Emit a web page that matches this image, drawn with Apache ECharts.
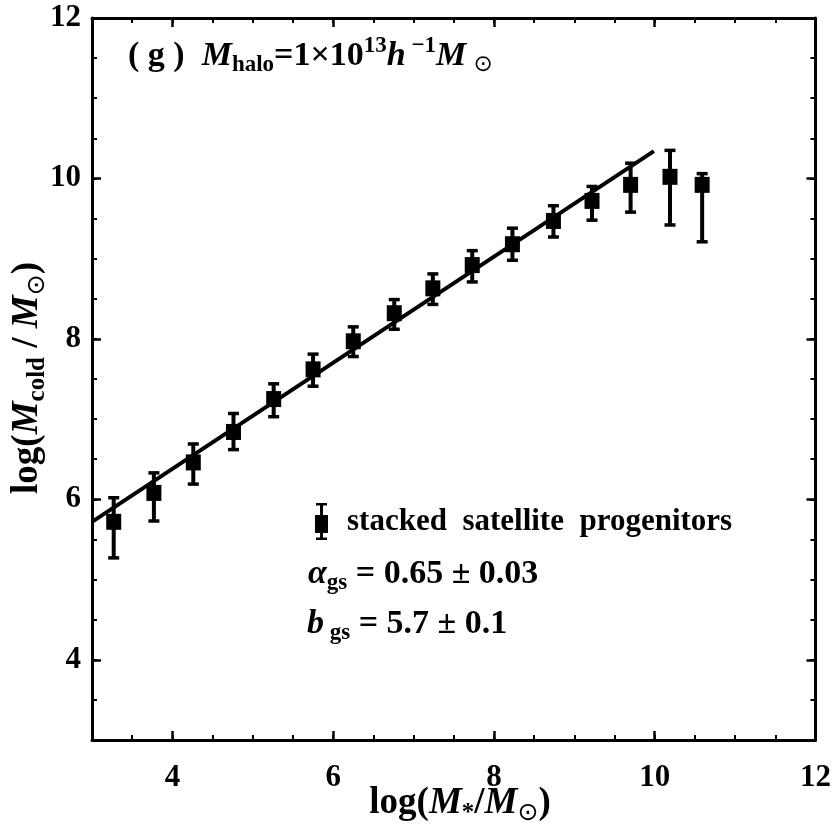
<!DOCTYPE html>
<html><head><meta charset="utf-8">
<script src="https://cdn.jsdelivr.net/npm/echarts@6/dist/echarts.min.js"></script>
<style>html,body{margin:0;padding:0;background:#fff}#c{width:834px;height:834px}</style>
</head><body><div id="c"></div>
<script>
const massX = [3.27,3.77,4.26,4.76,5.26,5.75,6.25,6.76,7.24,7.73,8.23,8.74,9.22,9.70,10.19,10.59];
const coldY = [5.72,6.08,6.46,6.84,7.25,7.62,7.97,8.32,8.63,8.92,9.18,9.47,9.72,9.92,10.02,9.92];
const errLow = [5.27,5.73,6.19,6.62,7.03,7.41,7.78,8.12,8.43,8.71,8.98,9.27,9.48,9.58,9.42,9.21];
const errHigh = [6.02,6.33,6.69,7.07,7.44,7.81,8.15,8.49,8.81,9.10,9.38,9.66,9.90,10.19,10.35,10.06];
const fitX = [3.0, 9.99];
const fitY = [5.72, 10.34];
const xTicks = [4,6,8,10,12];
const yTicks = [4,6,8,10,12];
const seriesName = 'stacked  satellite  progenitors';

const FONT = 'Liberation Serif, Times New Roman, serif';
const chart = echarts.init(document.getElementById('c'), null, {renderer:'canvas'});

function minorAxis(pos) {
  return {
    type:'value', position:pos, min:3, max:12, interval:0.5,
    axisLine:{show:true, onZero:false, lineStyle:{color:'#000', width:3}},
    axisTick:{show:true, inside:true, length:5, lineStyle:{color:'#000', width:2}},
    axisLabel:{show:false}, splitLine:{show:false}
  };
}
function majorAxis(pos, ticks, showLabel, isX) {
  return {
    type:'value', position:pos, min:3, max:12,
    axisLine:{show:false, onZero:false},
    axisTick:{show:true, inside:true, length:9, customValues:ticks, lineStyle:{color:'#000', width:2.5}},
    axisLabel:{show:showLabel, customValues:ticks, margin: isX?22:11, color:'#000',
      fontFamily:FONT, fontWeight:'bold', fontSize:31},
    splitLine:{show:false}
  };
}

function mkRich(main, sub, lh) {
  return {
    n:{fontFamily:FONT, fontWeight:'bold', fontSize:main, color:'#000', lineHeight:lh, verticalAlign:'middle'},
    i:{fontFamily:FONT, fontWeight:'bold', fontStyle:'italic', fontSize:main, color:'#000', lineHeight:lh, verticalAlign:'middle'},
    s:{fontFamily:FONT, fontWeight:'bold', fontSize:sub, color:'#000', lineHeight:sub, verticalAlign:'bottom'},
    sup:{fontFamily:FONT, fontWeight:'bold', fontSize:sub, color:'#000', lineHeight:sub, verticalAlign:'top'},
    sym:{fontFamily:'DejaVu Sans', fontSize:sub, color:'#000', lineHeight:sub, verticalAlign:'bottom'}
  };
}
const richTitle = mkRich(34, 23, 42);
const richEq = mkRich(34, 23, 42);
const richAxis = mkRich(37, 25, 46);

const option = {
  animation:false,
  backgroundColor:'#fff',
  grid:{left:92, right:16, top:18, bottom:94, containLabel:false},
  xAxis:[minorAxis('bottom'), majorAxis('bottom',xTicks,true,true), minorAxis('top'), majorAxis('top',xTicks,false,true)],
  yAxis:[minorAxis('left'), majorAxis('left',yTicks,true,false), minorAxis('right'), majorAxis('right',yTicks,false,false)],
  legend:{
    left:315, top:503, padding:0, orient:'vertical', selectedMode:false,
    itemWidth:13, itemHeight:37,
    data:[{name:seriesName, icon:'path://M0,12L13,12L13,30L0,30Z M5,0L8,0L8,37L5,37Z M1,0L12,0L12,2.5L1,2.5Z M1,34.5L12,34.5L12,37L1,37Z',
           itemStyle:{color:'#000', opacity:1}}],
    textStyle:{fontFamily:FONT, fontWeight:'bold', fontSize:31, color:'#000', padding:[0,0,0,14]}
  },
  series:[
    {type:'line', name:'fit', xAxisIndex:0, yAxisIndex:0, symbol:'none',
     data: fitX.map((x,i)=>[x,fitY[i]]), lineStyle:{color:'#000', width:4}, z:2},
    {type:'custom', name:'err', xAxisIndex:0, yAxisIndex:0,
     data: massX.map((x,i)=>[x,errLow[i],errHigh[i]]),
     renderItem:function(params, api){
       const x = api.value(0);
       const lo = api.coord([x, api.value(1)]);
       const hi = api.coord([x, api.value(2)]);
       const hw = 5.5;
       return {type:'group', children:[
         {type:'line', shape:{x1:lo[0], y1:lo[1], x2:hi[0], y2:hi[1]}, style:{stroke:'#000', lineWidth:4}},
         {type:'line', shape:{x1:lo[0]-hw, y1:lo[1], x2:lo[0]+hw, y2:lo[1]}, style:{stroke:'#000', lineWidth:3.5}},
         {type:'line', shape:{x1:hi[0]-hw, y1:hi[1], x2:hi[0]+hw, y2:hi[1]}, style:{stroke:'#000', lineWidth:3.5}}
       ]};
     }, z:3},
    {type:'scatter', name:seriesName, xAxisIndex:0, yAxisIndex:0, symbol:'rect', symbolSize:[15,16],
     itemStyle:{color:'#000', opacity:1}, data: massX.map((x,i)=>[x,coldY[i]]), z:4}
  ],
  graphic:[
    {type:'text', x:128, y:56, style:{text:'{n|( g )}{n|  }{i|M}{s|halo}{n|=1×10}{sup|13}{i|h}{sup| −1}{i|M}{sym| ⊙}', rich:richTitle, verticalAlign:'middle', align:'left'}},
    {type:'text', x:308, y:574, style:{text:'{i|α}{s|gs}{n| = 0.65 ± 0.03}', rich:richEq, verticalAlign:'middle', align:'left'}},
    {type:'text', x:307, y:624, style:{text:'{i|b}{s| gs}{n| = 5.7 ± 0.1}', rich:richEq, verticalAlign:'middle', align:'left'}},
    {type:'text', x:460, y:803, style:{text:'{n|log(}{i|M}{s|*}{n|/}{i|M}{sym|⊙}{n|)}', rich:richAxis, verticalAlign:'middle', align:'center'}},
    {type:'text', x:27, y:378, rotation:Math.PI/2, style:{text:'{n|log(}{i|M}{s|cold}{n| / }{i|M}{sym|⊙}{n|)}', rich:richAxis, verticalAlign:'middle', align:'center'}}
  ]
};
chart.setOption(option);
</script></body></html>
